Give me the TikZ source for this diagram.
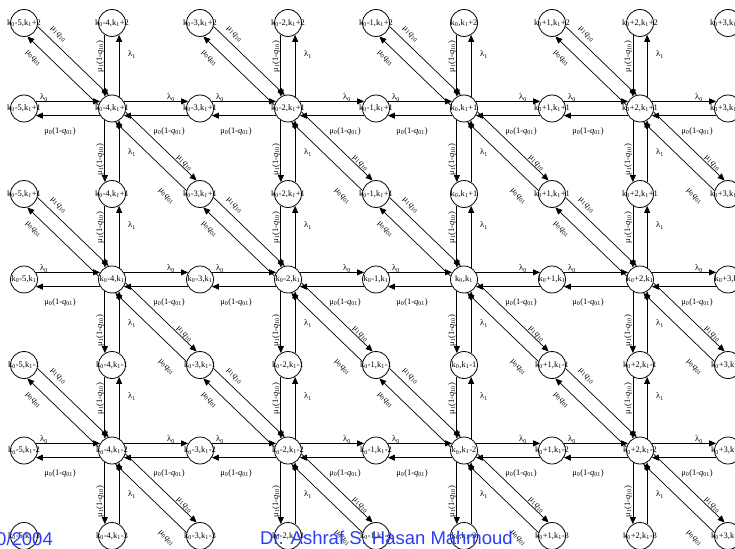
\documentclass[tikz,border=0pt]{standalone}
\usepackage{fontspec}
\setmainfont{Liberation Serif}
\setsansfont{Liberation Sans}
\usetikzlibrary{arrows.meta,calc}
\definecolor{footblue}{RGB}{45,60,245}

\tikzset{
  state/.style={circle, draw, line width=0.8pt, minimum size=27pt, inner sep=0pt,
    font=\fontsize{8.5}{9}\selectfont},
  rate/.style={-{Triangle[length=7pt,width=6pt]}, line width=0.7pt},
  lab/.style={font=\fontsize{8.5}{9}\selectfont, inner sep=0pt},
  foot/.style={font=\fontsize{18.5}{20}\selectfont\sffamily, text=footblue, inner sep=0pt}
}

\begin{document}
\begin{tikzpicture}[x=1pt,y=-1pt]
  \useasboundingbox (0,0) rectangle (735,548);

  % states
  \foreach \cx/\dk in {0/-5,1/-4,2/-3,3/-2,4/-1,5/{},6/+1,7/+2,8/+3} {
    \foreach \ry/\dr in {0/+2,1/+1,2/+1,3/{},4/-1,5/-2,6/-3} {
      \node[state] (n-\cx-\ry) at (24+88*\cx, 23+85.5*\ry)
        {\makebox[0pt]{k\textsubscript{0}\dk,k\textsubscript{1}\dr}};
    }
  }

  % transitions around each busy state
  \foreach \cx in {1,3,5,7} {
    \foreach \ry in {1,3,5} {
      \pgfmathtruncatemacro\cL{\cx-1}
      \pgfmathtruncatemacro\cR{\cx+1}
      \pgfmathtruncatemacro\rU{\ry-1}
      \pgfmathtruncatemacro\rD{\ry+1}
      \def\h{n-\cx-\ry}

      \draw[rate] (n-\cL-\ry.31) -- (\h.149);
      \draw[rate] (\h.-149) -- (n-\cL-\ry.-31);
      \draw[rate] (\h.31) -- (n-\cR-\ry.149);
      \draw[rate] (n-\cR-\ry.-149) -- (\h.-31);

      \draw[rate] (n-\cx-\rU.-121) -- (\h.121);
      \draw[rate] (\h.59) -- (n-\cx-\rU.-59);
      \draw[rate] (\h.-121) -- (n-\cx-\rD.121);
      \draw[rate] (n-\cx-\rD.59) -- (\h.-59);

      \draw[rate] (n-\cL-\rU.-14) -- (\h.104);
      \draw[rate] (\h.166) -- (n-\cL-\rU.-76);
      \draw[rate] (\h.-14) -- (n-\cR-\rD.104);
      \draw[rate] (n-\cR-\rD.166) -- (\h.-76);

      \node[lab] at ($(\h)+(-68,-11)$) {λ\textsubscript{0}};
      \node[lab] at ($(\h)+(59,-11)$) {λ\textsubscript{0}};
      \node[lab] at ($(\h)+(-52,23)$) {μ\textsubscript{0}(1-\textit{q}\textsubscript{01})};
      \node[lab] at ($(\h)+(57,23)$) {μ\textsubscript{0}(1-\textit{q}\textsubscript{01})};
      \node[lab,rotate=90] at ($(\h)+(-12,-52)$) {μ\textsubscript{1}(1-\textit{q}\textsubscript{10})};
      \node[lab,rotate=90] at ($(\h)+(-12,51)$) {μ\textsubscript{1}(1-\textit{q}\textsubscript{10})};
      \node[lab] at ($(\h)+(20,-54)$) {λ\textsubscript{1}};
      \node[lab] at ($(\h)+(20,44)$) {λ\textsubscript{1}};
      \node[lab,rotate=-45] at ($(\h)+(-54,-74)$) {μ\textsubscript{1}\textit{q}\textsubscript{10}};
      \node[lab,rotate=-45] at ($(\h)+(-79,-50)$) {μ\textsubscript{0}\textit{q}\textsubscript{01}};
      \node[lab,rotate=-45] at ($(\h)+(72,55)$) {μ\textsubscript{1}\textit{q}\textsubscript{10}};
      \node[lab,rotate=-45] at ($(\h)+(54,88)$) {μ\textsubscript{0}\textit{q}\textsubscript{01}};
    }
  }

  % footer
  \node[foot, anchor=base east] (date) at (53,545) {0/2004};
  \node[foot, anchor=base west] (author) at (260,544) {Dr. Ashraf S. Hasan Mahmoud};
\end{tikzpicture}
\end{document}
